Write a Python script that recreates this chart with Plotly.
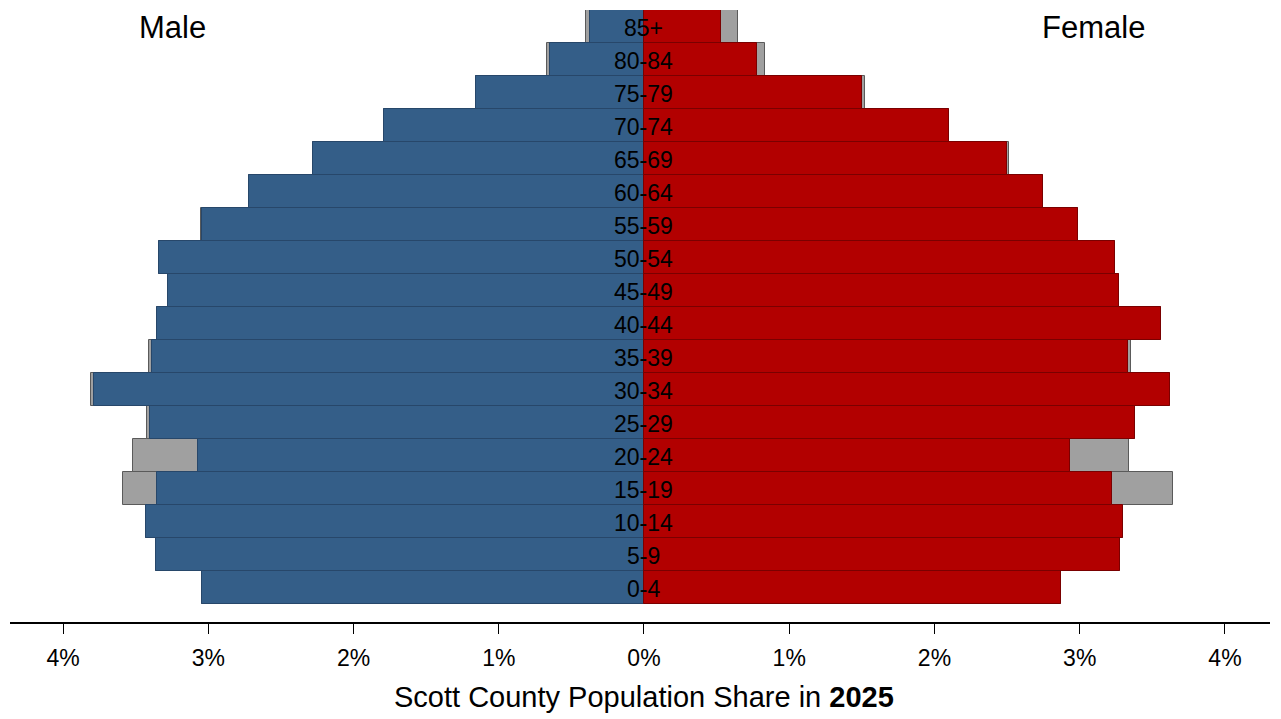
import plotly.graph_objects as go

ages = ["0-4", "5-9", "10-14", "15-19", "20-24", "25-29", "30-34", "35-39", "40-44",
        "45-49", "50-54", "55-59", "60-64", "65-69", "70-74", "75-79", "80-84", "85+"]

male_2025 = [3.04, 3.36, 3.43, 3.35, 3.07, 3.40, 3.79, 3.39, 3.35,
             3.28, 3.34, 3.04, 2.72, 2.28, 1.79, 1.16, 0.65, 0.37]
female_2025 = [2.87, 3.28, 3.30, 3.22, 2.93, 3.38, 3.62, 3.33, 3.56,
               3.27, 3.24, 2.99, 2.75, 2.50, 2.10, 1.50, 0.78, 0.53]
male_total = [3.04, 3.36, 3.43, 3.59, 3.52, 3.42, 3.81, 3.41, 3.35,
              3.28, 3.34, 3.05, 2.72, 2.28, 1.79, 1.16, 0.67, 0.40]
female_total = [2.87, 3.28, 3.30, 3.64, 3.34, 3.38, 3.62, 3.35, 3.56,
                3.27, 3.24, 2.99, 2.75, 2.51, 2.10, 1.52, 0.83, 0.65]

tick_vals = [-4, -3, -2, -1, 0, 1, 2, 3, 4]
tick_text = ["4%", "3%", "2%", "1%", "0%", "1%", "2%", "3%", "4%"]

BLUE = "#345E88"
RED = "#B20000"
GRAY = "#A0A0A0"
FONT = "Liberation Sans, Arial, sans-serif"

fig = go.Figure()
fig.add_trace(go.Bar(y=ages, x=[-v for v in male_total], orientation="h",
                     marker=dict(color=GRAY, line=dict(color="#5a5a5a", width=1)),
                     width=1, hoverinfo="skip", showlegend=False))
fig.add_trace(go.Bar(y=ages, x=female_total, orientation="h",
                     marker=dict(color=GRAY, line=dict(color="#5a5a5a", width=1)),
                     width=1, hoverinfo="skip", showlegend=False))
fig.add_trace(go.Bar(y=ages, x=[-v for v in male_2025], orientation="h",
                     marker=dict(color=BLUE, line=dict(color="#27476a", width=1)),
                     width=1, hoverinfo="skip", showlegend=False))
fig.add_trace(go.Bar(y=ages, x=female_2025, orientation="h",
                     marker=dict(color=RED, line=dict(color="#7a0000", width=1)),
                     width=1, hoverinfo="skip", showlegend=False))

age_labels = [dict(text=a, x=0, xref="x", y=a, yref="y", xanchor="center",
                   yanchor="middle", yshift=-1, showarrow=False,
                   font=dict(family=FONT, size=23, color="black")) for a in ages]

fig.update_layout(
    width=1273, height=711,
    margin=dict(l=2, r=11, t=2, b=97),
    barmode="overlay", bargap=0,
    plot_bgcolor="white", paper_bgcolor="white",
    font=dict(family=FONT, color="black"),
    xaxis=dict(range=[-4.365, 4.31], tickvals=tick_vals, ticktext=tick_text,
               showgrid=False, zeroline=False, showline=True, linecolor="black",
               linewidth=1.5, ticks="outside", ticklen=10, tickcolor="black",
               ticklabelstandoff=5,
               tickfont=dict(family=FONT, size=23, color="black")),
    yaxis=dict(range=[-1.045, 17.5], showticklabels=False, showgrid=False,
               zeroline=False, showline=False, ticks=""),
    annotations=age_labels + [
        dict(text="Scott County Population Share in <b>2025</b>", x=0, xref="x",
             y=-0.1225, yref="paper", xanchor="center", yanchor="middle",
             showarrow=False, font=dict(family=FONT, size=29, color="black")),
        dict(text="Male", x=-3.243, xref="x", y=0.9706, yref="paper",
             xanchor="center", yanchor="middle", showarrow=False,
             font=dict(family=FONT, size=31, color="black")),
        dict(text="Female", x=3.098, xref="x", y=0.9706, yref="paper",
             xanchor="center", yanchor="middle", showarrow=False,
             font=dict(family=FONT, size=31, color="black")),
    ],
)

fig.write_html("out.html")
